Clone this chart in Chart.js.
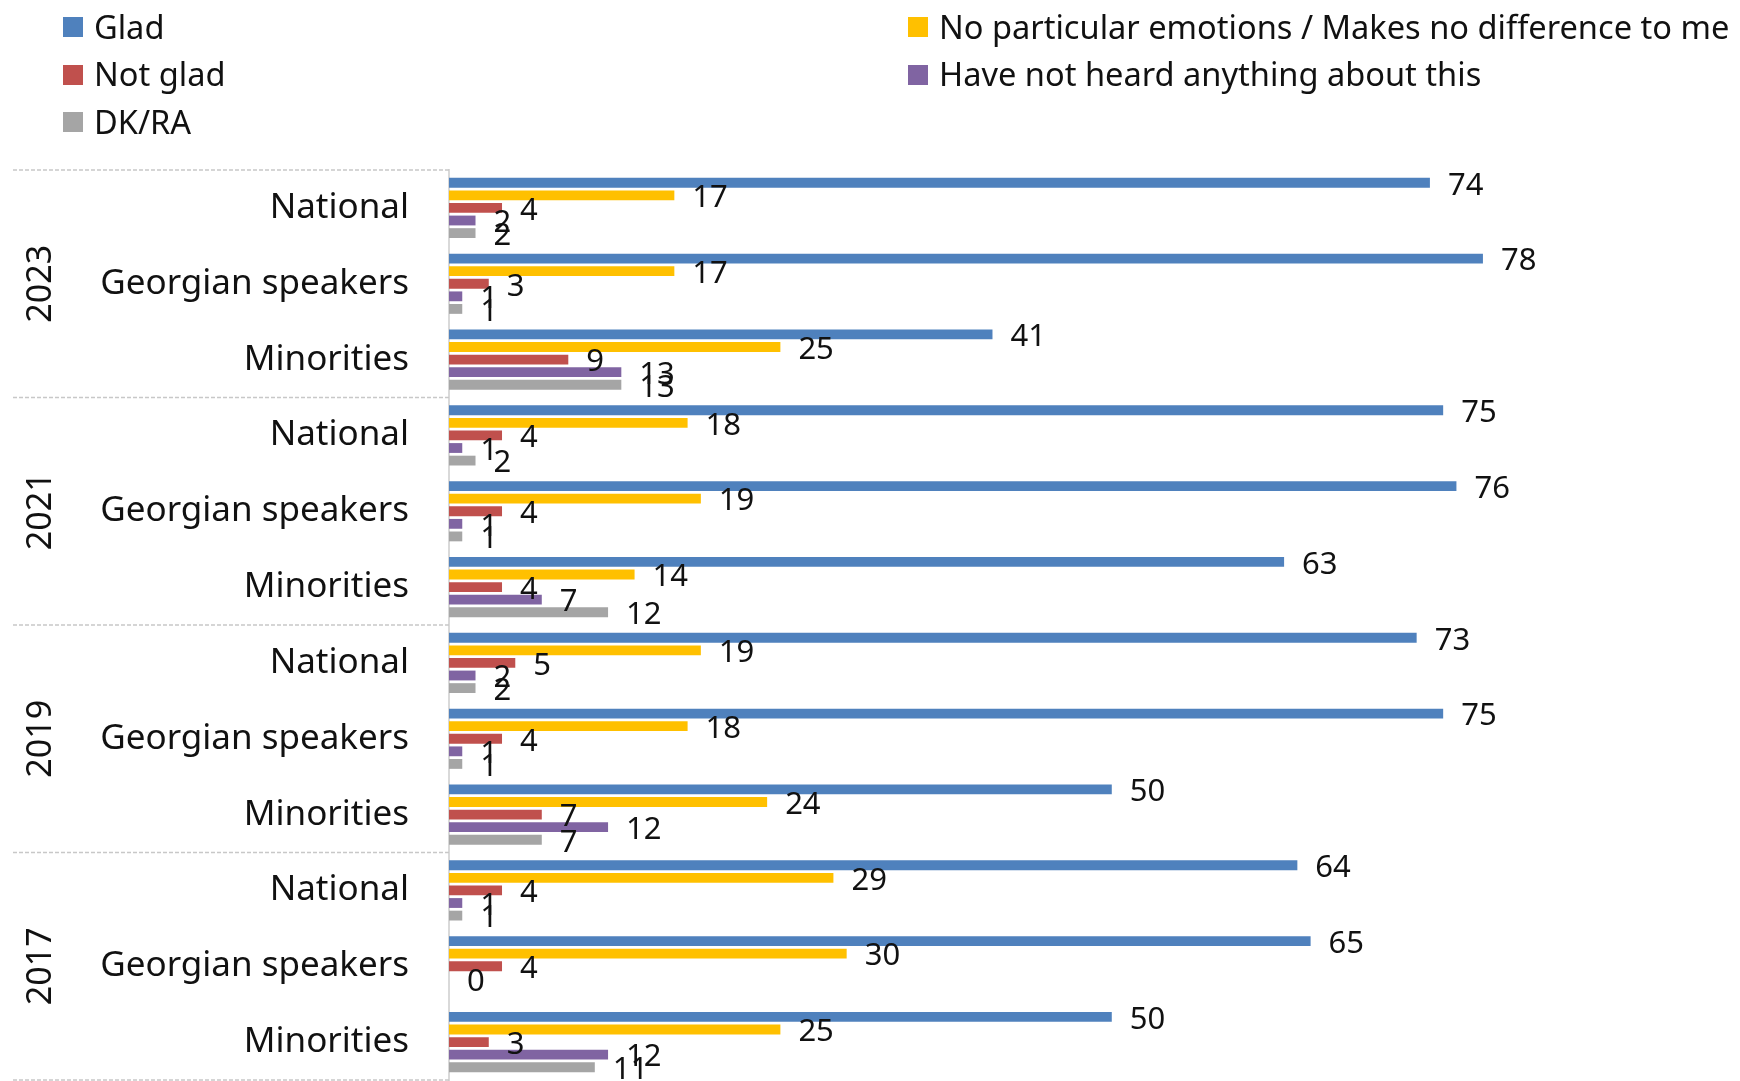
<!DOCTYPE html>
<html><head><meta charset="utf-8">
<script src="https://cdn.jsdelivr.net/npm/chart.js@4/dist/chart.umd.min.js"></script>
<style>
html,body{margin:0;padding:0;background:#fff;overflow:hidden;}
#wrap{position:relative;width:1740px;height:1081px;}
canvas{position:absolute;left:0;top:0;}
.lg{position:absolute;display:flex;align-items:center;height:40px;font-family:'Noto Sans',sans-serif;font-size:32.6px;color:#111;white-space:nowrap;line-height:1;}
.lg .sw{display:inline-block;width:20px;height:20px;margin-right:11px;}
</style></head>
<body><div id="wrap"><canvas id="c" width="1740" height="1081"></canvas><div id="legend"></div></div>
<script>
// ---- data ----
const years = ['2023', '2021', '2019', '2017'];
const groups = ['National', 'Georgian speakers', 'Minorities'];
const categoryLabels = [
  'National', 'Georgian speakers', 'Minorities',
  'National', 'Georgian speakers', 'Minorities',
  'National', 'Georgian speakers', 'Minorities',
  'National', 'Georgian speakers', 'Minorities'
];
const seriesNames = ['Glad', 'No particular emotions / Makes no difference to me', 'Not glad', 'Have not heard anything about this', 'DK/RA'];
const glad         = [74, 78, 41, 75, 76, 63, 73, 75, 50, 64, 65, 50];
const noParticular = [17, 17, 25, 18, 19, 14, 19, 18, 24, 29, 30, 25];
const notGlad      = [4, 3, 9, 4, 4, 4, 5, 4, 7, 4, 4, 3];
const notHeard     = [2, 1, 13, 1, 1, 7, 2, 1, 12, 1, 0, 12];
const dkRa         = [2, 1, 13, 2, 1, 12, 2, 1, 7, 1, null, 11];
const seriesValues = [glad, noParticular, notGlad, notHeard, dkRa];
const seriesColors = ['#4F81BD', '#FFC000', '#C0504D', '#8064A2', '#A5A5A5'];

// ---- legend (HTML, two columns) ----
const lgBox = document.getElementById('legend');
seriesNames.forEach((n, i) => {
  const col = i % 2, row = Math.floor(i / 2);
  const d = document.createElement('div');
  d.className = 'lg';
  d.style.left = (col === 0 ? 63 : 908) + 'px';
  d.style.top = (27 + row * 47.5 - 20) + 'px';
  const sw = document.createElement('span');
  sw.className = 'sw';
  sw.style.background = seriesColors[i];
  d.appendChild(sw);
  d.appendChild(document.createTextNode(n));
  lgBox.appendChild(d);
});

const FONT = "'Noto Sans', sans-serif";

const valueLabels = {
  id: 'valueLabels',
  afterDatasetsDraw(chart) {
    const ctx = chart.ctx;
    ctx.save();
    ctx.font = '31px ' + FONT;
    ctx.fillStyle = '#111';
    ctx.textAlign = 'left';
    ctx.textBaseline = 'middle';
    chart.data.datasets.forEach((ds, i) => {
      const meta = chart.getDatasetMeta(i);
      meta.data.forEach((el, j) => {
        const v = ds.data[j];
        if (v === null || v === undefined) return;
        ctx.fillText(String(v), el.x + 18, el.y + 3);
      });
    });
    ctx.restore();
  }
};

const yearGroups = {
  id: 'yearGroups',
  afterDraw(chart) {
    const ctx = chart.ctx;
    const ys = chart.scales.y;
    const per = groups.length;
    const half = (ys.getPixelForTick(1) - ys.getPixelForTick(0)) / 2;
    ctx.save();
    // separators
    ctx.strokeStyle = '#C8C8C8';
    ctx.lineWidth = 1.5;
    ctx.setLineDash([4, 2]);
    for (let b = 0; b <= years.length; b++) {
      let y = b < years.length ? ys.getPixelForTick(b * per) - half : ys.getPixelForTick(years.length * per - 1) + half;
      y = Math.min(y, chart.height - 1);
      ctx.beginPath();
      ctx.moveTo(13, y);
      ctx.lineTo(ys.right, y);
      ctx.stroke();
    }
    ctx.setLineDash([]);
    // year labels
    ctx.font = '34px ' + FONT;
    ctx.fillStyle = '#111';
    ctx.textAlign = 'center';
    ctx.textBaseline = 'middle';
    years.forEach((yr, b) => {
      const cy = (ys.getPixelForTick(b * per) + ys.getPixelForTick(b * per + per - 1)) / 2;
      ctx.save();
      ctx.translate(41, cy);
      ctx.rotate(-Math.PI / 2);
      ctx.fillText(yr, 0, 0);
      ctx.restore();
    });
    ctx.restore();
  }
};

new Chart(document.getElementById('c'), {
  type: 'bar',
  data: {
    labels: categoryLabels,
    datasets: seriesNames.map((n, i) => ({
      label: n,
      data: seriesValues[i],
      backgroundColor: seriesColors[i],
      borderWidth: 0,
      categoryPercentage: 0.83,
      barPercentage: 0.78
    }))
  },
  options: {
    indexAxis: 'y',
    responsive: false,
    animation: false,
    devicePixelRatio: 1,
    layout: { padding: { top: 170, bottom: 1, left: 0, right: 98 } },
    plugins: { legend: { display: false }, tooltip: { enabled: false } },
    scales: {
      x: { display: false, min: 0, max: 90 },
      y: {
        grid: { display: false, drawTicks: false },
        border: { display: true, color: '#D9D9D9', width: 2 },
        ticks: { padding: 40, color: '#111', font: { family: FONT, size: 35 } },
        afterFit(s) { s.width = 449; s.paddingTop = 0; s.paddingBottom = 0; }
      }
    }
  },
  plugins: [valueLabels, yearGroups]
});
</script>
</body></html>
